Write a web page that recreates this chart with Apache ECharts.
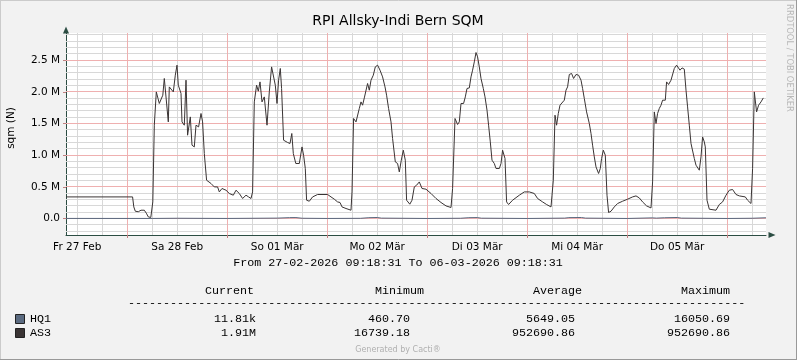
<!DOCTYPE html>
<html><head><meta charset="utf-8">
<script src="https://cdn.jsdelivr.net/npm/echarts@6/dist/echarts.min.js"></script>
<style>html,body{margin:0;padding:0;background:#f2f2f2}#c{width:797px;height:360px}</style>
</head><body><div id="c"></div>
<script>
// Time in hours since 27-02-2026 00:00; values in millions (M)
const timeStart = 9.3086;   // 27-02-2026 09:18:31
const timeEnd = 177.3086;   // 06-03-2026 09:18:31
const yMin = -0.2606, yMax = 2.9304;

const as3Times = [9.31,25.29,25.58,25.94,26.66,27.31,27.62,28.10,28.58,29.06,29.66,29.95,30.14,30.50,30.98,31.39,31.70,32.18,32.54,32.90,33.38,33.86,34.10,34.58,35.06,35.54,35.95,36.26,36.91,37.15,37.70,38.11,38.49,39.14,39.55,40.10,40.51,41.13,41.71,42.09,42.50,43.05,44.11,44.90,45.69,46.10,46.75,47.71,48.50,49.46,50.11,50.90,51.69,52.51,53.13,53.71,54.09,54.50,55.05,55.46,55.87,56.35,56.90,57.55,58.10,58.65,59.06,59.54,59.95,60.33,60.74,61.05,61.53,62.49,63.07,63.50,63.86,64.46,65.30,65.95,66.33,66.74,67.05,67.70,68.49,69.69,72.09,72.91,73.70,74.49,75.07,75.55,76.51,77.71,77.95,78.33,78.91,79.29,79.70,80.11,80.49,80.90,81.31,81.69,82.10,82.51,83.06,83.54,84.09,84.67,85.29,85.87,86.25,86.73,87.31,87.69,88.34,88.89,89.30,89.78,90.26,90.74,91.05,91.82,92.35,92.90,93.45,94.10,94.75,95.71,96.91,98.11,99.31,100.51,101.71,102.09,102.67,103.29,103.70,104.11,104.73,105.14,105.55,106.10,106.51,106.89,107.30,107.71,108.09,108.50,108.91,109.46,109.87,110.35,110.73,111.14,111.55,112.10,112.51,113.31,113.71,114.09,114.67,115.05,115.53,116.49,118.10,119.30,120.50,121.70,122.49,123.69,124.65,125.71,125.95,126.26,126.67,127.05,127.46,127.87,128.35,128.90,129.31,129.69,130.10,130.65,131.13,131.71,132.33,132.91,133.29,133.70,134.25,134.90,135.31,135.69,136.10,136.51,137.13,137.54,137.85,138.26,138.74,139.15,139.53,140.11,140.90,141.69,142.89,144.09,145.29,146.11,146.90,147.69,148.65,149.71,150.09,150.50,150.91,151.29,151.70,152.11,152.49,153.14,153.45,153.93,154.51,154.89,155.30,155.85,156.26,156.67,157.15,157.70,158.11,158.49,158.90,159.31,159.69,160.10,160.51,160.89,161.30,161.71,162.09,162.50,162.74,163.15,163.70,165.31,166.10,166.89,167.71,168.50,169.29,170.11,170.90,172.34,172.89,173.71,174.09,174.50,175.05,175.53,176.11,176.66];
const as3Values = [0.341,0.341,0.183,0.115,0.107,0.131,0.100,0.131,0.084,0.025,0.017,0.017,0.262,1.474,2.000,1.896,1.817,1.842,1.948,2.212,2.212,1.526,2.079,2.079,2.000,2.264,2.422,2.106,1.975,1.526,1.474,2.185,1.316,1.605,1.158,1.131,1.474,1.447,1.659,1.526,1.027,0.605,0.553,0.499,0.499,0.420,0.474,0.447,0.395,0.368,0.447,0.395,0.316,0.368,0.341,0.316,0.420,1.842,2.106,2.011,2.158,1.842,1.921,1.474,2.000,2.395,2.395,2.106,1.817,2.185,2.370,2.054,1.237,1.201,1.185,1.343,1.027,0.869,0.869,1.131,1.000,0.790,0.289,0.273,0.341,0.379,0.379,0.341,0.305,0.262,0.253,0.183,0.158,0.131,0.420,1.580,1.526,1.553,1.738,1.842,1.790,1.905,1.921,2.133,2.027,2.185,2.264,2.395,2.422,2.343,2.237,2.079,1.948,1.738,1.526,1.264,0.894,0.869,0.736,0.921,1.079,0.921,0.289,0.226,0.289,0.499,0.526,0.578,0.474,0.463,0.395,0.316,0.253,0.199,0.174,0.474,1.580,1.485,1.526,1.817,1.817,1.921,2.054,2.063,2.237,2.343,2.474,2.622,2.553,2.395,2.212,2.054,1.921,1.711,1.474,1.210,0.921,0.869,0.790,0.790,0.869,1.079,0.948,0.262,0.221,0.289,0.368,0.420,0.420,0.395,0.316,0.262,0.221,0.183,0.368,0.605,1.632,1.474,1.659,1.790,1.817,1.869,2.027,2.079,2.275,2.291,2.212,2.275,2.264,2.185,2.054,1.896,1.684,1.501,1.343,1.158,0.973,0.815,0.711,0.790,0.948,1.079,1.000,0.368,0.095,0.115,0.183,0.237,0.273,0.305,0.341,0.357,0.325,0.262,0.199,0.167,0.578,1.684,1.501,1.659,1.738,1.790,1.869,1.869,2.158,2.117,2.185,2.201,2.370,2.422,2.449,2.343,2.379,2.359,2.027,1.763,1.474,1.185,1.158,0.948,0.842,0.815,0.763,0.973,1.289,1.210,1.131,0.289,0.147,0.131,0.221,0.262,0.368,0.447,0.458,0.379,0.357,0.341,0.289,0.237,0.790,2.000,1.684,1.790,1.842,1.905];

const hq1Times = [9.31,30,36,48,60,63,64.5,66,72,80,82,84,85,96,104,106,108,109,120,129,130,133,134,144,150,151,153,156,157,168,174,177.3];
const hq1Values = [0.0012,0.0010,0.004,0.0008,0.006,0.014,0.015,0.004,0.0006,0.003,0.013,0.016,0.006,0.0005,0.004,0.013,0.015,0.005,0.0005,0.006,0.014,0.016,0.006,0.0005,0.010,0.006,0.012,0.016,0.006,0.0005,0.004,0.0118];

const dayLabelTimes = [12,36,60,84,108,132,156];
const dayLabels = ['Fr 27 Feb','Sa 28 Feb','So 01 Mär','Mo 02 Mär','Di 03 Mär','Mi 04 Mär','Do 05 Mär'];
const xMajorTimes = [24,48,72,96,120,144,168];
const xMinorTimes = [12,18,30,36,42,54,60,66,78,84,90,102,108,114,126,132,138,150,156,162,174];
const yMajorValues = [0,0.5,1.0,1.5,2.0,2.5];
const yMajorLabels = ['0.0','0.5 M','1.0 M','1.5 M','2.0 M','2.5 M'];
const yMinorValues = [-0.2,-0.1,0.1,0.2,0.3,0.4,0.6,0.7,0.8,0.9,1.1,1.2,1.3,1.4,1.6,1.7,1.8,1.9,2.1,2.2,2.3,2.4,2.6,2.7,2.8,2.9];

const seriesNames = ['HQ1','AS3'];
const seriesColors = ['#5a6a80','#3a3434'];
const legendCurrent = ['11.81k','1.91M'];
const legendMinimum = ['460.70','16739.18'];
const legendAverage = ['5649.05','952690.86'];
const legendMaximum = ['16050.69','952690.86'];

const AXIS = '#2c4d43', MGRID = '#efb0b0', GRID = '#d8d8d8';
const G = {left:66, top:33, width:700, height:202};
const mono = '11.7px "Liberation Mono", monospace';

const chart = echarts.init(document.getElementById('c'), null, {renderer:'canvas'});

const graphic = [
  {type:'line', shape:{x1:0,y1:0.5,x2:797,y2:0.5}, style:{stroke:'#cbcbcb',lineWidth:1}},
  {type:'line', shape:{x1:0.5,y1:0,x2:0.5,y2:360}, style:{stroke:'#cbcbcb',lineWidth:1}},
  {type:'line', shape:{x1:0,y1:359.5,x2:797,y2:359.5}, style:{stroke:'#999999',lineWidth:1}},
  {type:'line', shape:{x1:796.5,y1:0,x2:796.5,y2:360}, style:{stroke:'#999999',lineWidth:1}},
  {type:'text', x:398, y:21, style:{text:'RPI Allsky-Indi Bern SQM', font:'14px "DejaVu Sans"', fill:'#000', align:'center', verticalAlign:'middle'}},
  {type:'text', x:11, y:128, rotation:Math.PI/2, style:{text:'sqm (N)', font:'10.5px "DejaVu Sans"', fill:'#000', align:'center', verticalAlign:'middle'}},
  {type:'text', x:789, y:58, rotation:-Math.PI/2, style:{text:'RRDTOOL / TOBI OETIKER', font:'8.4px "DejaVu Sans"', fill:'#b8b8b8', align:'center', verticalAlign:'middle'}},
  {type:'text', x:398, y:263, style:{text:'From 27-02-2026 09:18:31 To 06-03-2026 09:18:31', font:mono, fill:'#000', align:'center', verticalAlign:'middle'}},
  {type:'text', x:254, y:291, style:{text:'Current', font:mono, fill:'#000', align:'right', verticalAlign:'middle'}},
  {type:'text', x:424, y:291, style:{text:'Minimum', font:mono, fill:'#000', align:'right', verticalAlign:'middle'}},
  {type:'text', x:582, y:291, style:{text:'Average', font:mono, fill:'#000', align:'right', verticalAlign:'middle'}},
  {type:'text', x:730, y:291, style:{text:'Maximum', font:mono, fill:'#000', align:'right', verticalAlign:'middle'}},
  {type:'text', x:128, y:303, style:{text:'-'.repeat(88), font:mono, fill:'#000', align:'left', verticalAlign:'middle'}},
  {type:'text', x:398, y:350, style:{text:'Generated by Cacti®', font:'8px "DejaVu Sans"', fill:'#b0b0b0', align:'center', verticalAlign:'middle'}}
];
const rowY = [319, 333];
seriesNames.forEach((n,i)=>{
  graphic.push({type:'rect', shape:{x:15.5,y:rowY[i]-4.5,width:9,height:9}, style:{fill:seriesColors[i], stroke:'#222', lineWidth:1}});
  graphic.push({type:'text', x:30, y:rowY[i], style:{text:n, font:mono, fill:'#000', align:'left', verticalAlign:'middle'}});
  graphic.push({type:'text', x:256, y:rowY[i], style:{text:legendCurrent[i], font:mono, fill:'#000', align:'right', verticalAlign:'middle'}});
  graphic.push({type:'text', x:410, y:rowY[i], style:{text:legendMinimum[i], font:mono, fill:'#000', align:'right', verticalAlign:'middle'}});
  graphic.push({type:'text', x:575, y:rowY[i], style:{text:legendAverage[i], font:mono, fill:'#000', align:'right', verticalAlign:'middle'}});
  graphic.push({type:'text', x:730, y:rowY[i], style:{text:legendMaximum[i], font:mono, fill:'#000', align:'right', verticalAlign:'middle'}});
});

// grid lines drawn as 1px filled rects through the axes (kind 0 = vertical, 1 = horizontal)
function gridSeries(color, xs, ys, z){
  const data = xs.map(t=>[t, yMin, 0]).concat(ys.map(v=>[timeStart, v, 1]));
  return {type:'custom', z:z, silent:true, clip:false, data:data,
    encode:{x:0, y:1},
    renderItem:(params, api)=>{
      const kind = api.value(2);
      let shape;
      if (kind === 0) {
        const a = api.coord([api.value(0), yMin]), b = api.coord([api.value(0), yMax]);
        shape = {x:Math.floor(a[0]), y:b[1], width:1, height:a[1]-b[1]};
      } else {
        const a = api.coord([timeStart, api.value(1)]), b = api.coord([timeEnd, api.value(1)]);
        shape = {x:a[0], y:Math.floor(a[1]), width:b[0]-a[0], height:1};
      }
      return {type:'rect', shape:shape, style:{fill:color}};
    }};
}

const option = {
  animation:false,
  backgroundColor:'#f2f2f2',
  grid:[Object.assign({show:true, backgroundColor:'#ffffff', borderWidth:0}, G)],
  xAxis:[{
    type:'value', min:timeStart, max:timeEnd,
    axisLine:{show:true, onZero:false, lineStyle:{color:AXIS,width:1}, symbol:['none','triangle'], symbolSize:[6,7], symbolOffset:[0,6]},
    axisTick:{show:true, length:3, lineStyle:{color:'#c08080'}, customValues:xMajorTimes},
    axisLabel:{show:true, customValues:dayLabelTimes, margin:7, color:'#000', fontFamily:'DejaVu Sans', fontSize:10.5,
      formatter:v=>{const k=dayLabelTimes.findIndex(t=>Math.abs(t-v)<0.01); return k>=0?dayLabels[k]:'';}},
    splitLine:{show:false}
  }],
  yAxis:[{
    type:'value', min:yMin, max:yMax,
    axisLine:{show:true, onZero:false, lineStyle:{color:AXIS,width:1}, symbol:['none','triangle'], symbolSize:[6,7], symbolOffset:[0,3]},
    axisTick:{show:true, length:3, lineStyle:{color:'#c08080'}, customValues:yMajorValues},
    axisLabel:{show:true, customValues:yMajorValues, margin:6, color:'#000', fontFamily:'DejaVu Sans', fontSize:10.5,
      formatter:v=>{const k=yMajorValues.findIndex(t=>Math.abs(t-v)<1e-6); return k>=0?yMajorLabels[k]:'';}},
    splitLine:{show:false}
  }],
  series:[
    gridSeries(GRID, xMinorTimes, yMinorValues, 1),
    gridSeries(MGRID, xMajorTimes, yMajorValues, 2),
    {name:'HQ1', type:'line', showSymbol:false, symbol:'none', z:10,
      lineStyle:{color:seriesColors[0], width:1}, data:hq1Times.map((t,i)=>[t,hq1Values[i]])},
    {name:'AS3', type:'line', showSymbol:false, symbol:'none', z:11,
      lineStyle:{color:seriesColors[1], width:1}, data:as3Times.map((t,i)=>[t,as3Values[i]])}
  ],
  graphic:graphic
};
chart.setOption(option);
</script></body></html>
